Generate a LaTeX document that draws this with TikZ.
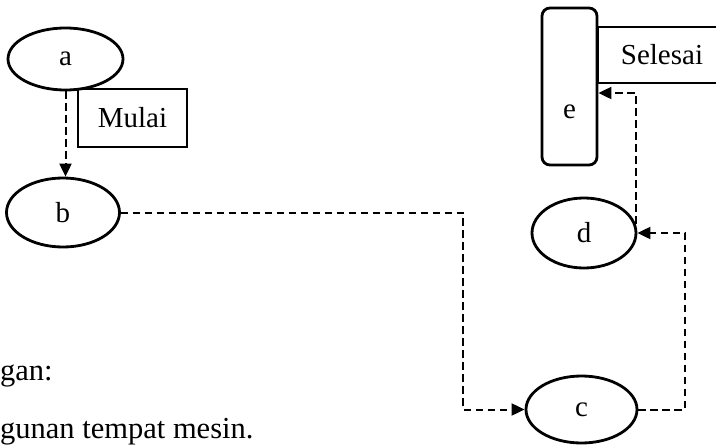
\documentclass[tikz,border=0pt]{standalone}
\usepackage{fontspec}
\setmainfont{Liberation Serif}
\usetikzlibrary{positioning, arrows.meta, shapes.geometric, calc}
\tikzset{
	labeltext/.style={font=\fontsize{29}{33}\selectfont}
}
\tikzset{
	notetext/.style={font=\fontsize{30.5}{35}\selectfont}
}

\begin{document}
\begin{tikzpicture}[x=1pt,y=-1pt]
	\tikzset{
		statenode/.style={
				shape=ellipse,
				draw=black,
				line width=2.8pt,
				fill=white,
				inner sep=0pt,
				labeltext
			},
		tagnode/.style={
				shape=rectangle,
				draw=black,
				line width=1.5pt,
				fill=white,
				inner sep=0pt,
				labeltext
			},
		flowline/.style={
				line width=2pt,
				dash pattern=on 7.5pt off 4.5pt,
				-{Triangle[length=13pt,width=12pt]}
			}
	}
	\useasboundingbox (0,0) rectangle (716,445);
	\clip (0,0) rectangle (716,445);

	\node[tagnode, minimum width=109pt, minimum height=58pt] (mulai) at (132.5,118) {Mulai};
	\node[tagnode, minimum width=128pt, minimum height=56pt] (selesai) at (662,55) {Selesai};

	\node[statenode, minimum width=115pt, minimum height=62pt] (a) at (65.5,59) {a};
	\node[statenode, minimum width=113pt, minimum height=69pt] (b) at (63,212.5) {b};
	\node[statenode, minimum width=111pt, minimum height=67pt] (c) at (581.5,409.5) {c};
	\node[statenode, minimum width=104pt, minimum height=70pt] (d) at (584,233) {d};
	\node[draw=black, line width=2.8pt, fill=white, rounded corners=8pt,
		minimum width=55pt, minimum height=157pt,
		label={[labeltext, yshift=-25pt]center:e}] (e) at (569.5,86.5) {};

	\coordinate (bc) at (463,0);
	\coordinate (cd) at (685,0);
	\coordinate (de) at (0,93);

	\draw[flowline] (a.south) -- (a.south |- b.north);
	\draw[flowline] (b.east) -- (b.east -| bc) -- (bc |- c.west) -- (c.west);
	\draw[flowline] (c.east) -- (c.east -| cd) -- (cd |- d.east) -- (d.east);
	\draw[flowline] (d.10) -- (d.10 |- de) -- (de -| e.east);

	\node[notetext, anchor=base west, inner sep=0pt] (ket) at (0,380) {gan:};
	\node[notetext, anchor=base west, inner sep=0pt] (guna) at (0,438) {gunan tempat mesin.};
\end{tikzpicture}
\end{document}
